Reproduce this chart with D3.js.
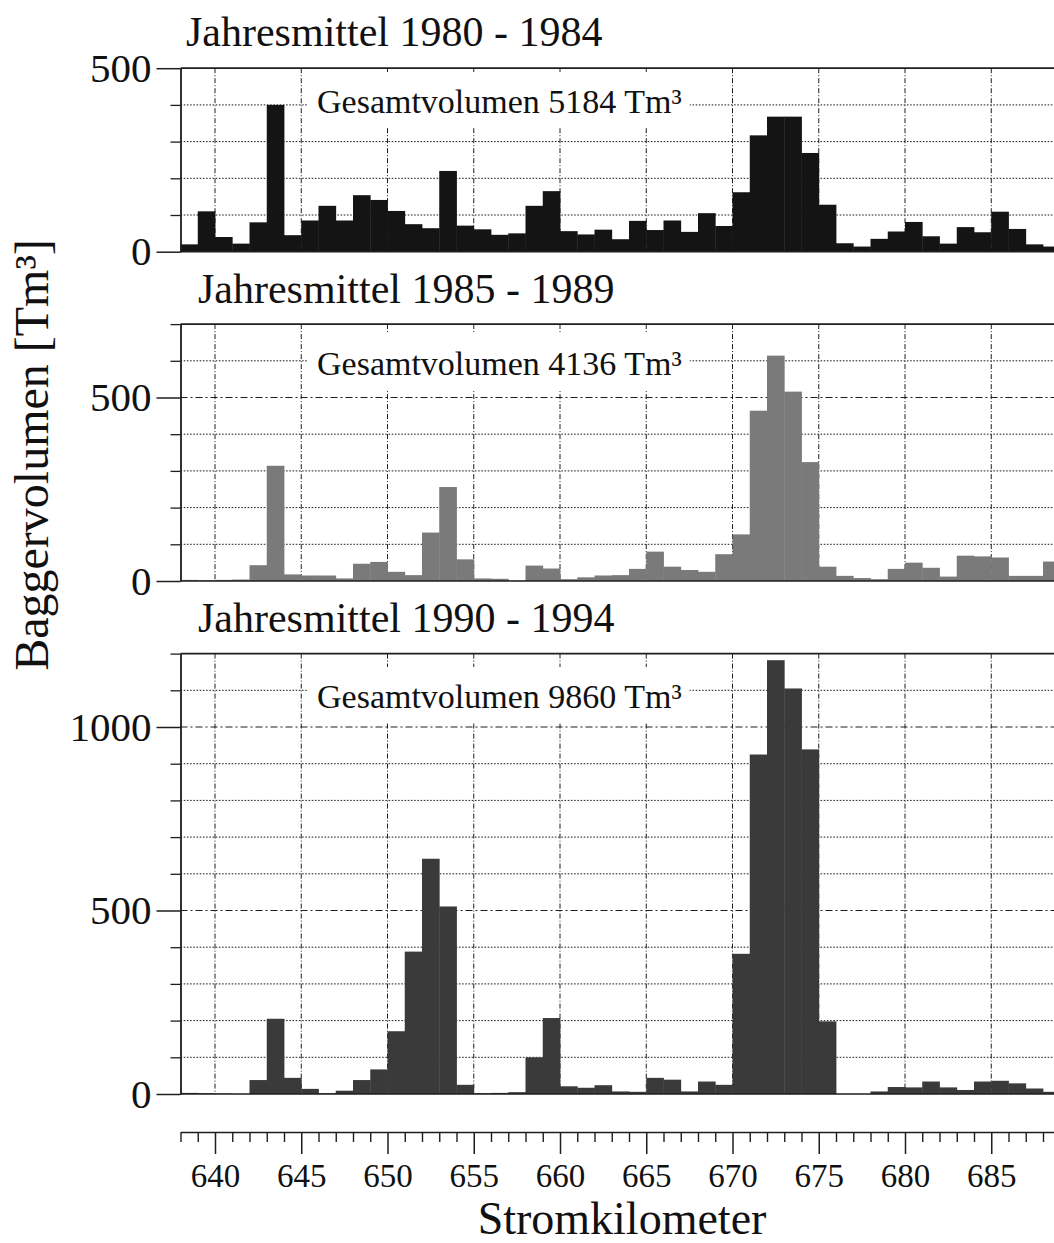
<!DOCTYPE html>
<html>
<head>
<meta charset="utf-8">
<script src="https://cdn.jsdelivr.net/npm/d3@7"></script>
<style>
  body { margin: 0; background: #fff; }
  svg { display: block; font-family: "Liberation Serif", "Times New Roman", serif; }
</style>
</head>
<body>
<script>
// start of each 1 km section (Stromkilometer)
let km = [638, 639, 640, 641, 642, 643, 644, 645, 646, 647, 648, 649, 650, 651, 652, 653, 654,
  655, 656, 657, 658, 659, 660, 661, 662, 663, 664, 665, 666, 667, 668, 669, 670, 671,
  672, 673, 674, 675, 676, 677, 678, 679, 680, 681, 682, 683, 684, 685, 686, 687, 688];

// Baggervolumen per km [Tm³]
let vol8084 = [20, 110, 40, 22, 80, 400, 45, 85, 125, 85, 154, 141, 111, 75, 64, 220, 71,
  61, 46, 50, 125, 165, 56, 47, 60, 34, 84, 59, 85, 54, 105, 70, 162, 317,
  368, 368, 269, 128, 23, 14, 35, 55, 81, 42, 22, 67, 53, 109, 62, 20, 14];
let vol8589 = [3, 2, 3, 4, 43, 314, 18, 15, 15, 7, 47, 52, 25, 16, 132, 256, 59,
  7, 6, 1, 42, 34, 5, 10, 15, 16, 33, 80, 39, 30, 25, 73, 127, 464,
  614, 516, 324, 39, 14, 8, 5, 33, 50, 36, 12, 69, 67, 64, 14, 14, 53];
let vol9094 = [3, 2, 1, 0, 38, 205, 44, 14, 2, 9, 38, 67, 171, 388, 641, 511, 25,
  2, 3, 5, 100, 207, 21, 17, 24, 7, 6, 44, 39, 7, 34, 25, 382, 925,
  1182, 1105, 939, 198, 0, 0, 7, 19, 18, 34, 18, 11, 34, 36, 29, 15, 6];

let titles = ["Jahresmittel 1980 - 1984", "Jahresmittel 1985 - 1989", "Jahresmittel 1990 - 1994"];
let totals = [5184, 4136, 9860];
let yMax = [500, 700, 1200];
let yLabelTicks = [[0, 500], [0, 500], [0, 500, 1000]];
let xLabelTicks = [640, 645, 650, 655, 660, 665, 670, 675, 680, 685];

let width = 1054;
let height = 1243;
let pxPerUnit = 0.367; // same vertical scale in all three panels
let ink = "#1e1e1e";

let x = d3.scaleLinear()
  .domain([638, 690])
  .range([180.5, 180.5 + 52 * 17.25]);

// layout of the three panels
let panels = [
  { values: vol8084, base: 251.7, fill: "#141414", titleX: 186, titleY: 46, noteY: 113 },
  { values: vol8589, base: 581, fill: "#7a7a7a", titleX: 198, titleY: 303, noteY: 375 },
  { values: vol9094, base: 1094, fill: "#3a3a3a", titleX: 198, titleY: 632, noteY: 708 }
];

let svg = d3.select("body").append("svg")
  .attr("width", width)
  .attr("height", height);

panels.forEach(function(p, i) {
  let top = yMax[i];
  let y = d3.scaleLinear()
    .domain([0, top])
    .range([p.base, p.base - top * pxPerUnit]);

  let g = svg.append("g");

  // horizontal grid every 100, dash-dot at 500/1000
  let hLines = d3.range(100, top, 100);
  g.selectAll(".hgrid")
    .data(hLines)
    .enter().append("line")
      .attr("x1", x(638)).attr("x2", width)
      .attr("y1", d => y(d)).attr("y2", d => y(d))
      .attr("stroke", ink)
      .attr("stroke-width", 1)
      .attr("stroke-dasharray", d => d % 500 === 0 ? "7,3,2,3" : "1.6,1.6");

  // vertical grid every 5 km
  g.selectAll(".vgrid")
    .data(xLabelTicks)
    .enter().append("line")
      .attr("x1", d => x(d)).attr("x2", d => x(d))
      .attr("y1", y(top)).attr("y2", y(0))
      .attr("stroke", ink)
      .attr("stroke-width", 1)
      .attr("stroke-dasharray", "5,2,1,2");

  // bars, one per km section
  g.selectAll(".bar")
    .data(km)
    .enter().append("rect")
      .attr("x", d => x(d))
      .attr("width", d => x(d + 1) - x(d) + 0.4)
      .attr("y", (d, j) => y(p.values[j]))
      .attr("height", (d, j) => y(0) - y(p.values[j]))
      .attr("fill", p.fill);

  // frame: top and zero line
  [top, 0].forEach(function(v) {
    g.append("line")
      .attr("x1", x(638)).attr("x2", width)
      .attr("y1", y(v)).attr("y2", y(v))
      .attr("stroke", ink)
      .attr("stroke-width", v === 0 ? 1.6 : 1.8);
  });

  // y axis: labelled ticks and minor ticks
  let minor = d3.range(100, top + 1, 100).filter(d => yLabelTicks[i].indexOf(d) < 0);
  g.append("g")
    .attr("transform", "translate(" + x(638) + ",0)")
    .call(d3.axisLeft(y).tickValues(minor).tickSize(10).tickSizeOuter(0).tickFormat(""))
    .call(a => a.selectAll("path, line").attr("stroke", ink).attr("stroke-width", 1.3));
  g.append("g")
    .attr("transform", "translate(" + x(638) + ",0)")
    .call(d3.axisLeft(y).tickValues(yLabelTicks[i]).tickSize(24).tickSizeOuter(0)
      .tickPadding(5).tickFormat(d3.format("d")))
    .call(a => a.selectAll("path, line").attr("stroke", ink).attr("stroke-width", 1.5))
    .call(a => a.selectAll("text")
      .attr("fill", "#111")
      .style("font-family", "Liberation Serif")
      .style("font-size", "41px"));

  // panel title
  svg.append("text")
    .attr("x", p.titleX)
    .attr("y", p.titleY)
    .attr("fill", "#111")
    .style("font-size", "42px")
    .text(titles[i]);

  // total volume note on a white box
  let note = svg.append("text")
    .attr("x", 317)
    .attr("y", p.noteY)
    .attr("fill", "#111")
    .style("font-size", "34px")
    .text("Gesamtvolumen " + totals[i] + " Tm³");
  let bb = note.node().getBBox();
  svg.insert("rect", function() { return note.node(); })
    .attr("x", bb.x - 9)
    .attr("y", p.noteY - 41)
    .attr("width", bb.width + 17)
    .attr("height", 56)
    .attr("fill", "#fff");
});

// common x axis
let xMinor = km.filter(d => xLabelTicks.indexOf(d) < 0);
let axisY = 1132;
svg.append("g")
  .attr("transform", "translate(0," + axisY + ")")
  .call(d3.axisBottom(x).tickValues(xMinor).tickSize(10).tickSizeOuter(0).tickFormat(""))
  .call(a => a.selectAll("path, line").attr("stroke", ink).attr("stroke-width", 1.4));
svg.append("g")
  .attr("transform", "translate(0," + axisY + ")")
  .call(d3.axisBottom(x).tickValues(xLabelTicks).tickSize(22).tickSizeOuter(0))
  .call(a => a.select("path").remove())
  .call(a => a.selectAll("line").attr("stroke", ink).attr("stroke-width", 1.5))
  .call(a => a.selectAll("text")
    .attr("y", 55)
    .attr("dy", 0)
    .attr("fill", "#111")
    .style("font-family", "Liberation Serif")
    .style("font-size", "33px"));

// axis titles
svg.append("text")
  .attr("x", 622)
  .attr("y", 1234)
  .attr("text-anchor", "middle")
  .attr("fill", "#111")
  .style("font-size", "46px")
  .text("Stromkilometer");

svg.append("text")
  .attr("transform", "translate(48,455) rotate(-90)")
  .attr("text-anchor", "middle")
  .attr("fill", "#111")
  .style("font-size", "48px")
  .text("Baggervolumen [Tm³]");
</script>
</body>
</html>
